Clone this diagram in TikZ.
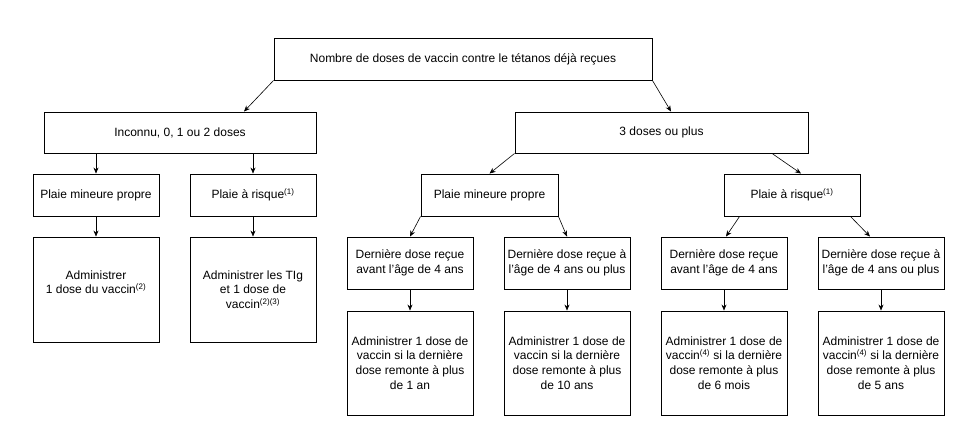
\documentclass[tikz,border=0pt]{standalone}
\usepackage{fontspec}
\setmainfont{Liberation Sans}
\usetikzlibrary{arrows.meta}
\begin{document}
\begin{tikzpicture}[x=1pt, y=-1pt, >={Stealth[length=6pt,width=5pt]},
	boite/.style={draw, line width=0.9pt, align=center, inner sep=1pt, font=\fontsize{12}{14.7}\selectfont},
	petite/.style={boite, minimum width=126pt, minimum height=52pt},
	grande/.style={boite, minimum width=126pt, minimum height=104pt},
	fleche/.style={->, line width=0.6pt}]
	\useasboundingbox (0,0) rectangle (976,435);
	\node[boite, minimum width=378pt, minimum height=42pt] (nombre) at (463,59) {Nombre de doses de vaccin contre le tétanos déjà reçues};
	\node[boite, minimum width=272pt, minimum height=41pt] (inconnu) at (180,132.5) {Inconnu, 0, 1 ou 2 doses};
	\node[boite, minimum width=293pt, minimum height=41pt] (trois) at (661.5,132.5) {3 doses ou plus};
	\node[boite, minimum width=126pt, minimum height=42pt] (propreA) at (96,195) {Plaie mineure propre};
	\node[boite, minimum width=126pt, minimum height=42pt] (risqueA) at (253,195) {Plaie à risque\textsuperscript{(1)}};
	\node[boite, minimum width=137pt, minimum height=42pt] (propreB) at (489.5,195) {Plaie mineure propre};
	\node[boite, minimum width=136pt, minimum height=42pt] (risqueB) at (792,195) {Plaie à risque\textsuperscript{(1)}};
	\node[boite, minimum width=126pt, minimum height=105pt] (vaccinA) at (96,289.5) {Administrer\\ 1 dose du vaccin\textsuperscript{(2)}\\ \mbox{}};
	\node[boite, minimum width=126pt, minimum height=105pt] (vaccinB) at (253,289.5) {Administrer les TIg\\ et 1 dose de\\ vaccin\textsuperscript{(2)(3)}};
	\node[petite] (avantB) at (410,263) {Dernière dose reçue\\ avant l’âge de 4 ans};
	\node[petite] (apresB) at (567,263) {Dernière dose reçue à\\ l’âge de 4 ans ou plus};
	\node[petite] (avantC) at (724,263) {Dernière dose reçue\\ avant l’âge de 4 ans};
	\node[petite] (apresC) at (881,263) {Dernière dose reçue à\\ l’âge de 4 ans ou plus};
	\node[grande] (unan) at (410,363) {Administrer 1 dose de\\ vaccin si la dernière\\ dose remonte à plus\\ de 1 an};
	\node[grande] (dixans) at (567,363) {Administrer 1 dose de\\ vaccin si la dernière\\ dose remonte à plus\\ de 10 ans};
	\node[grande] (sixmois) at (724,363) {Administrer 1 dose de\\ vaccin\textsuperscript{(4)} si la dernière\\ dose remonte à plus\\ de 6 mois};
	\node[grande] (cinqans) at (881,363) {Administrer 1 dose de\\ vaccin\textsuperscript{(4)} si la dernière\\ dose remonte à plus\\ de 5 ans};
	\draw[fleche] (nombre.south west) -- ([xshift=64pt]inconnu.north);
	\draw[fleche] (nombre.south east) -- ([xshift=9.5pt]trois.north);
	\draw[fleche] (inconnu.south -| propreA) -- (propreA.north);
	\draw[fleche] (inconnu.south -| risqueA) -- (risqueA.north);
	\draw[fleche] (propreA) -- (vaccinA);
	\draw[fleche] (risqueA) -- (vaccinB);
	\draw[fleche] (trois.south west) -- (propreB.north);
	\draw[fleche] ([xshift=110.5pt]trois.south) -- ([xshift=9pt]risqueB.north);
	\draw[fleche] (propreB.south west) -- (avantB.north);
	\draw[fleche] (propreB.south east) -- (apresB.north);
	\draw[fleche] ([xshift=16pt]risqueB.south west) -- ([xshift=2pt]avantC.north);
	\draw[fleche] ([xshift=-10pt]risqueB.south east) -- ([xshift=-11pt]apresC.north);
	\draw[fleche] (avantB) -- (unan);
	\draw[fleche] (apresB) -- (dixans);
	\draw[fleche] (avantC) -- (sixmois);
	\draw[fleche] (apresC) -- (cinqans);
\end{tikzpicture}
\end{document}
